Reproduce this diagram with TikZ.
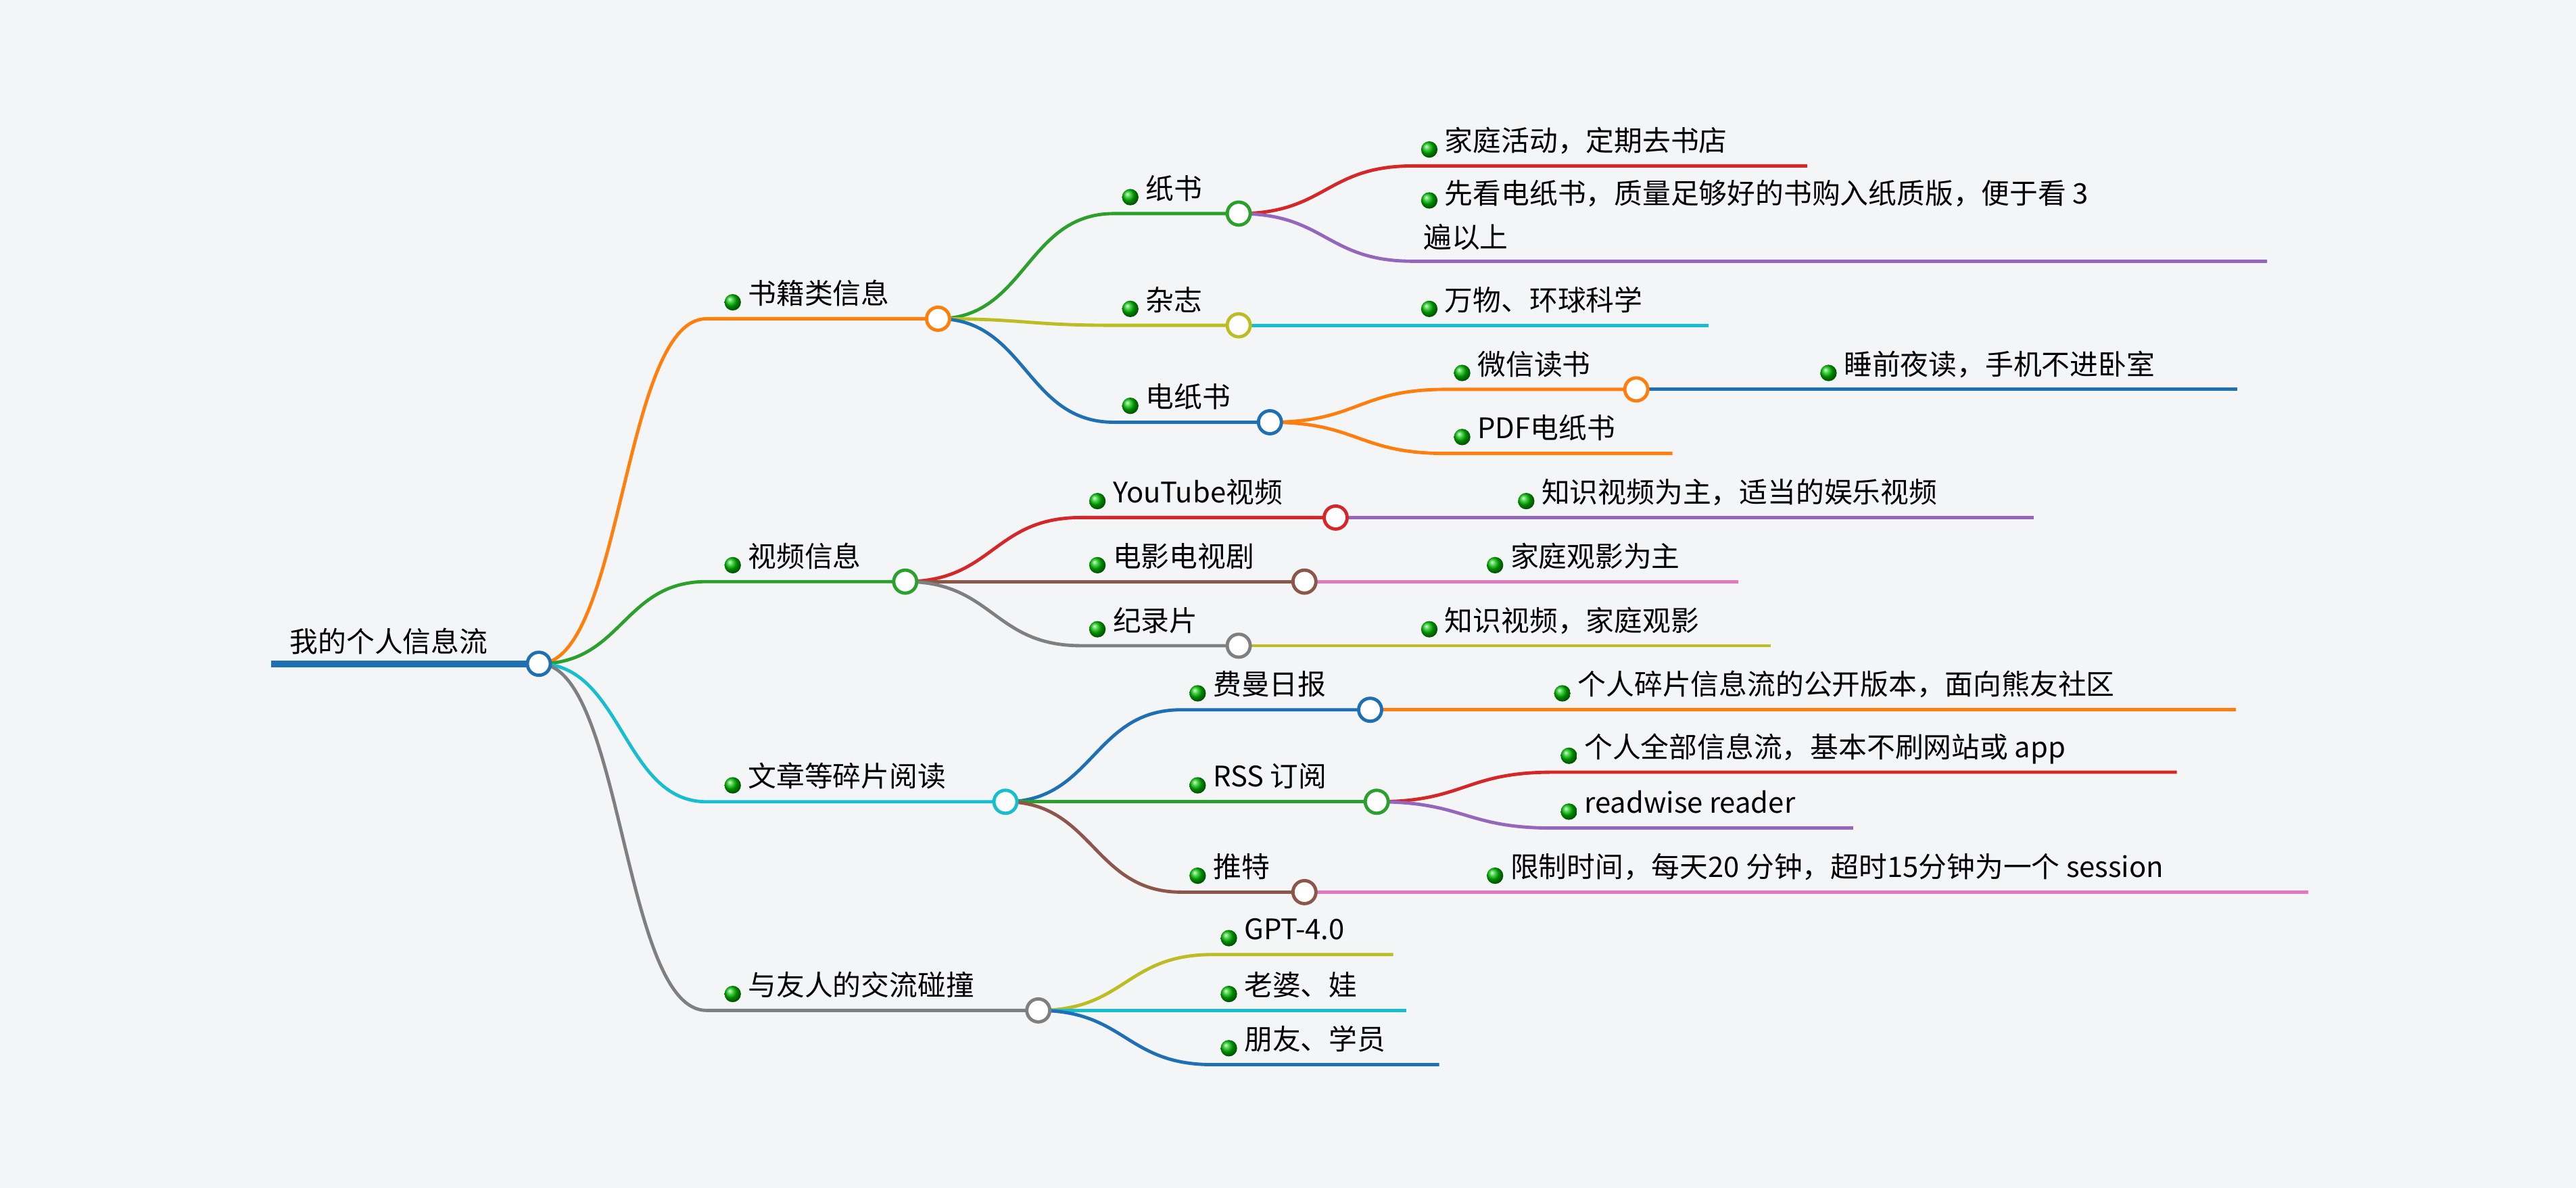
\documentclass[tikz,border=0pt]{standalone}
\usepackage{fontspec}
\setmainfont{Noto Sans CJK SC}
\definecolor{bg}{HTML}{F4F5F7}
\definecolor{cO}{HTML}{FF7F0E}\definecolor{cB}{HTML}{1F6FB5}\definecolor{cG}{HTML}{2CA02C}
\definecolor{cC}{HTML}{17BECF}\definecolor{cY}{HTML}{7F7F7F}\definecolor{cR}{HTML}{D62728}
\definecolor{cP}{HTML}{9467BD}\definecolor{cL}{HTML}{BCBD22}\definecolor{cN}{HTML}{8C564B}
\definecolor{cK}{HTML}{E377C2}
\newcommand\edg[6]{\draw[#6,line width=1pt] (#1,#2) .. controls ({(#1+#3)/2},#2) and ({(#1+#3)/2},#5) .. (#3,#5) -- (#4,#5);}
\newcommand\cir[3]{\draw[#3,line width=1pt,fill=white] (#1,#2) circle (7);}
\newcommand\lab[4]{\shade[ball color=green!75!black] (#2,#3-10) circle (5);
\node[lbl] (#1) at (#2+9,#3-9) {#4};}
\begin{document}
\begin{tikzpicture}[x=0.5pt,y=-0.5pt,lbl/.style={anchor=base west,font=\fontsize{8.6}{13}\selectfont,inner sep=0pt,align=left}]
\fill[bg] (0,0) rectangle (1568,723);
\useasboundingbox (0,0) rectangle (1568,723);
% root
\draw[cB,line width=2pt] (165,404) -- (328,404);
\node[lbl] (root) at (176,397) {我的个人信息流};
% level1 edges
\edg{328}{404}{430}{571}{194}{cO}
\edg{328}{404}{430}{551}{354}{cG}
\edg{328}{404}{430}{612}{488}{cC}
\edg{328}{404}{430}{632}{615}{cY}
% books
\edg{571}{194}{678}{754}{130}{cG}
\edg{571}{194}{678}{754}{198}{cL}
\edg{571}{194}{678}{773}{257}{cB}
\edg{754}{130}{860}{1100}{101}{cR}
\edg{754}{130}{860}{1380}{159}{cP}
\edg{754}{198}{860}{1040}{198}{cC}
\edg{773}{257}{880}{996}{237}{cO}
\edg{773}{257}{880}{1018}{276}{cO}
\draw[cB,line width=1pt] (996,237) -- (1362,237);
% video
\edg{551}{354}{658}{813}{315}{cR}
\edg{551}{354}{658}{794}{354}{cN}
\edg{551}{354}{658}{754}{393}{cY}
\draw[cP,line width=1pt] (813,315) -- (1238,315);
\draw[cK,line width=1pt] (794,354) -- (1058,354);
\draw[cL,line width=1pt] (754,393) -- (1078,393);
% articles
\edg{612}{488}{719}{834}{432}{cB}
\edg{612}{488}{719}{838}{488}{cG}
\edg{612}{488}{719}{794}{543}{cN}
\draw[cO,line width=1pt] (834,432) -- (1361,432);
\edg{838}{488}{945}{1325}{470}{cR}
\edg{838}{488}{945}{1128}{504}{cP}
\draw[cK,line width=1pt] (794,543) -- (1405,543);
% friends
\edg{632}{615}{738}{848}{581}{cL}
\edg{632}{615}{738}{856}{615}{cC}
\edg{632}{615}{738}{876}{648}{cB}
% circles
\cir{328}{404}{cB}
\cir{571}{194}{cO}\cir{551}{354}{cG}\cir{612}{488}{cC}\cir{632}{615}{cY}
\cir{754}{130}{cG}\cir{754}{198}{cL}\cir{773}{257}{cB}\cir{996}{237}{cO}
\cir{813}{315}{cR}\cir{794}{354}{cN}\cir{754}{393}{cY}
\cir{834}{432}{cB}\cir{838}{488}{cG}\cir{794}{543}{cN}
% labels
\lab{a}{446}{194}{书籍类信息}
\lab{b}{446}{354}{视频信息}
\lab{c}{446}{488}{文章等碎片阅读}
\lab{d}{446}{615}{与友人的交流碰撞}
\lab{a1}{688}{130}{纸书}
\lab{a2}{688}{198}{杂志}
\lab{a3}{688}{257}{电纸书}
\lab{a11}{870}{101}{家庭活动，定期去书店}
\shade[ball color=green!75!black] (870,122) circle (5);
\node[lbl] (a12) at (879,124) {先看电纸书，质量足够好的书购入纸质版，便于看 3};
\node[lbl] (a12b) at (866,151) {遍以上};
\lab{a21}{870}{198}{万物、环球科学}
\lab{a31}{890}{237}{微信读书}
\lab{a311}{1113}{237}{睡前夜读，手机不进卧室}
\lab{a32}{890}{276}{PDF电纸书}
\lab{b1}{668}{315}{YouTube视频}
\lab{b2}{668}{354}{电影电视剧}
\lab{b3}{668}{393}{纪录片}
\lab{b11}{929}{315}{知识视频为主，适当的娱乐视频}
\lab{b21}{910}{354}{家庭观影为主}
\lab{b31}{870}{393}{知识视频，家庭观影}
\lab{c1}{729}{432}{费曼日报}
\lab{c2}{729}{488}{RSS 订阅}
\lab{c3}{729}{543}{推特}
\lab{c11}{951}{432}{个人碎片信息流的公开版本，面向熊友社区}
\lab{c21}{955}{470}{个人全部信息流，基本不刷网站或 app}
\lab{c22}{955}{504}{readwise reader}
\lab{c31}{910}{543}{限制时间，每天20 分钟，超时15分钟为一个 session}
\lab{d1}{748}{581}{GPT-4.0}
\lab{d2}{748}{615}{老婆、娃}
\lab{d3}{748}{648}{朋友、学员}
\end{tikzpicture}
\end{document}
